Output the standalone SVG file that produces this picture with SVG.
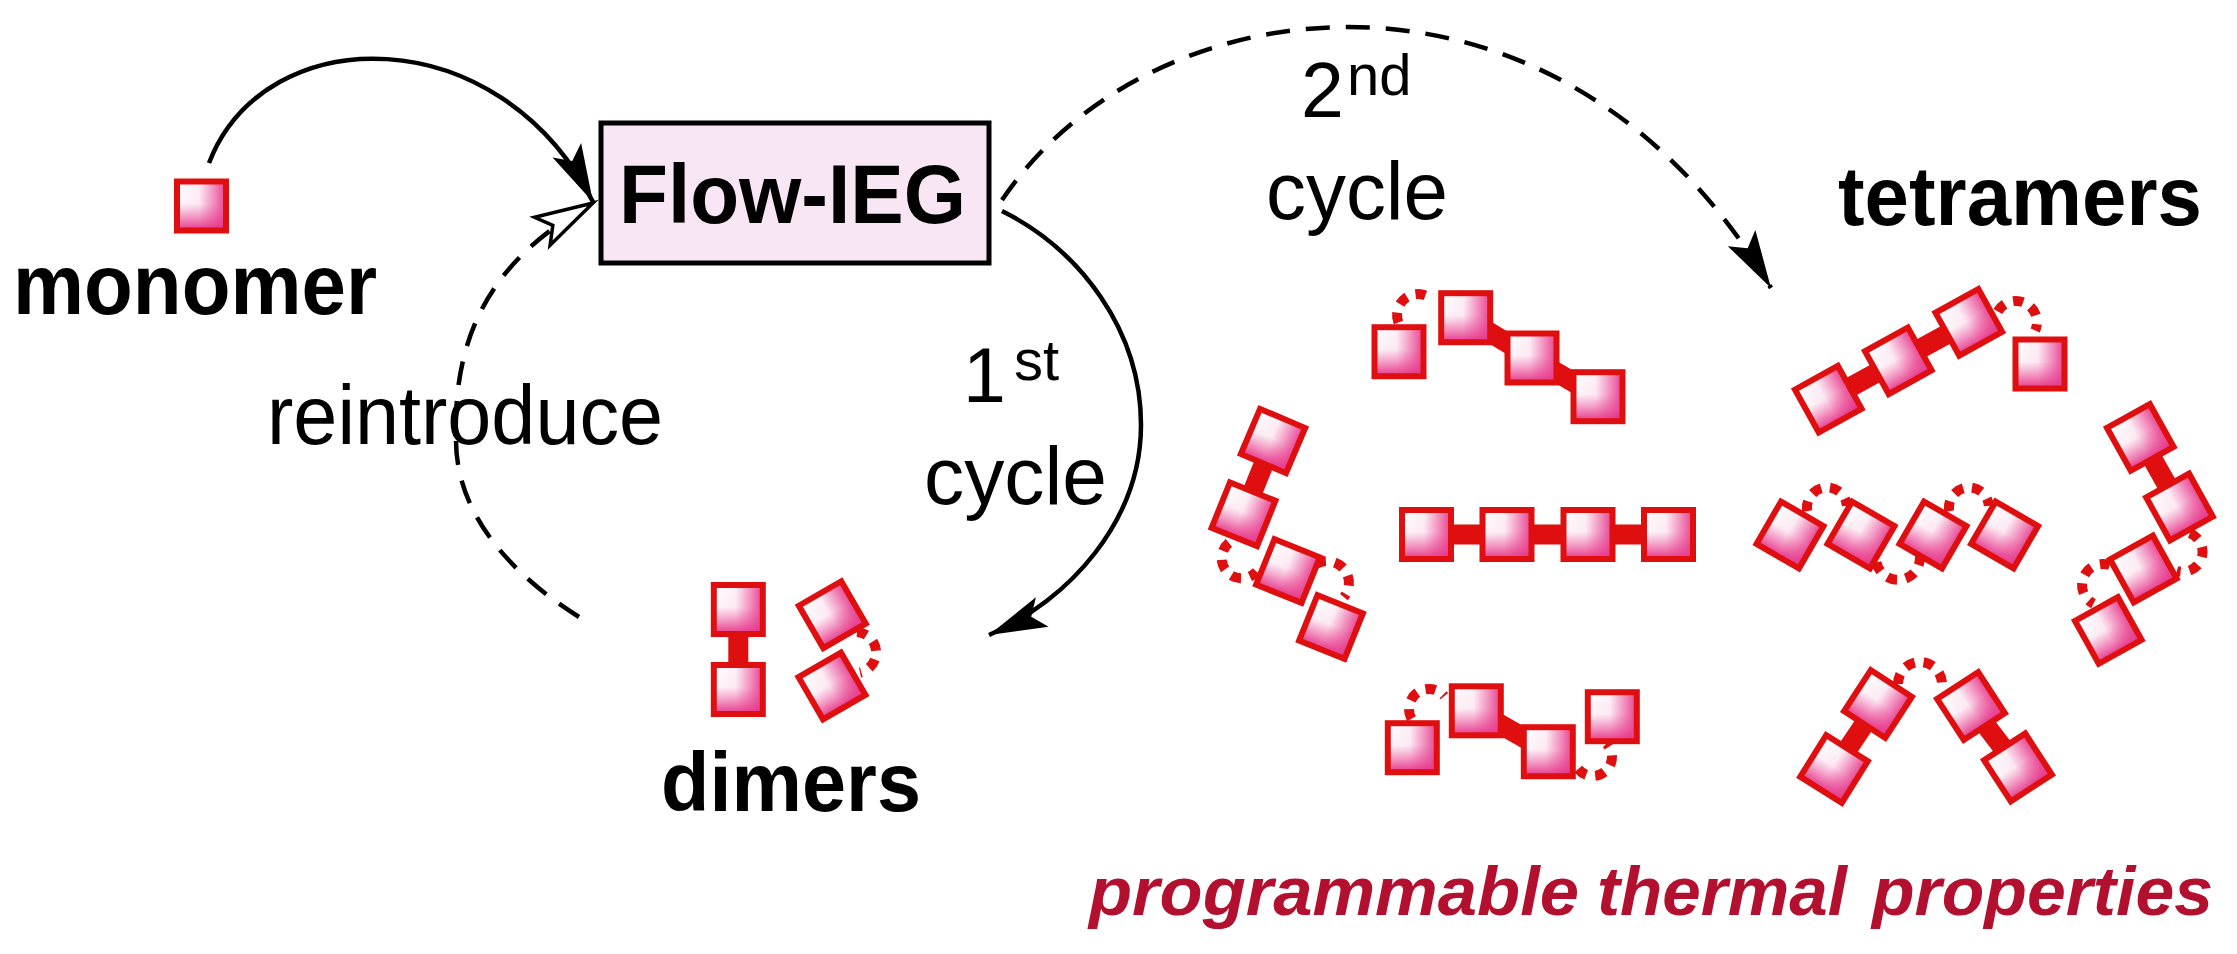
<svg xmlns="http://www.w3.org/2000/svg" width="2237" height="954" viewBox="0 0 2237 954">
<defs>
<style>
.lbl{font-family:"Liberation Sans",Arial,sans-serif;fill:#000}
.b{font-weight:bold}
.conn{fill:none;stroke:#000;stroke-width:4.5}
.dash{stroke-width:4.5;stroke-dasharray:24 16}
.bar{stroke:#e00f0f;stroke-width:20;fill:none}
.brk{fill:none;stroke:#e00f0f;stroke-width:10;stroke-dasharray:10 9}
.prop{font-family:"Liberation Sans",Arial,sans-serif;font-weight:bold;font-style:italic;fill:#b3102f;font-size:68px}
</style>
<linearGradient id="gh" x1="0" y1="0" x2="1" y2="0">
<stop offset="0" stop-color="#ffffff"/><stop offset="0.45" stop-color="#fdf0f7"/><stop offset="1" stop-color="#e8408f"/>
</linearGradient>
<linearGradient id="gv" x1="0" y1="0" x2="0" y2="1">
<stop offset="0" stop-color="#ea4a95" stop-opacity="0"/><stop offset="0.45" stop-color="#ea4a95" stop-opacity="0.05"/><stop offset="1" stop-color="#e6358a" stop-opacity="1"/>
</linearGradient>
<g id="sq">
<rect x="-24.5" y="-24.5" width="49" height="49" fill="url(#gh)"/>
<rect x="-24.5" y="-24.5" width="49" height="49" fill="url(#gv)"/>
<rect x="-24.5" y="-24.5" width="49" height="49" fill="none" stroke="#e00f0f" stroke-width="6"/>
</g>
<marker id="ah" markerUnits="userSpaceOnUse" markerWidth="64" markerHeight="40" refX="61" refY="20" orient="auto" overflow="visible">
<path d="M61,20 L3,4 L15,20 L3,36 Z" fill="#000"/>
</marker>
<marker id="aho" markerUnits="userSpaceOnUse" markerWidth="64" markerHeight="40" refX="61" refY="20" orient="auto" overflow="visible">
<path d="M61,20 L3,4 L15,20 L3,36 Z" fill="#fff" stroke="#000" stroke-width="3.5"/>
</marker>
</defs>
<rect width="2237" height="954" fill="#fff"/>

<g id="connectors">
<path class="conn" d="M209,163 C265,18 500,18 593,202" marker-end="url(#ah)"/>
<path class="conn" d="M1002,211 C1080,250 1141,330 1141,425 C1141,520 1070,600 989,635" marker-end="url(#ah)"/>
<path class="conn dash" d="M1002,200 C1150,-20 1560,-70 1771,288" marker-end="url(#ah)"/>
<path class="conn dash" d="M579,617 C520,580 456,520 456,440 C452,320 505,252 593,203" marker-end="url(#aho)"/>
</g>

<g id="monomer">
<use href="#sq" transform="translate(201.5 206)"/>
<text class="lbl b" x="13" y="314" font-size="86" textLength="364" lengthAdjust="spacingAndGlyphs">monomer</text>
</g>

<g id="flow-ieg">
<rect x="601" y="123" width="388" height="140" fill="#f8e6f4" stroke="#000" stroke-width="5"/>
<text class="lbl b" x="619" y="223" font-size="84" textLength="347" lengthAdjust="spacingAndGlyphs">Flow-IEG</text>
</g>

<g id="label-reintroduce">
<text class="lbl" x="267" y="444" font-size="83" textLength="396" lengthAdjust="spacingAndGlyphs">reintroduce</text>
</g>

<g id="label-1st-cycle">
<text class="lbl" x="963" y="402" font-size="77">1</text>
<text class="lbl" x="1014" y="380" font-size="58">st</text>
<text class="lbl" x="924" y="504" font-size="81" textLength="183" lengthAdjust="spacingAndGlyphs">cycle</text>
</g>

<g id="label-2nd-cycle">
<text class="lbl" x="1301" y="117" font-size="77">2</text>
<text class="lbl" x="1347" y="95" font-size="58">nd</text>
<text class="lbl" x="1266" y="219" font-size="81" textLength="182" lengthAdjust="spacingAndGlyphs">cycle</text>
</g>

<g id="dimers">
<line class="bar" x1="738.3" y1="609.5" x2="738.3" y2="689.5"/>
<path class="brk" d="M857,632 A20.5,20.5 0 0 1 860,672.5"/>
<use href="#sq" transform="translate(738.3 609.5)"/>
<use href="#sq" transform="translate(738.3 689.5)"/>
<use href="#sq" transform="translate(832.3 614.7) rotate(-30)"/>
<use href="#sq" transform="translate(832 686) rotate(-30)"/>
<text class="lbl b" x="661" y="811" font-size="84" textLength="260" lengthAdjust="spacingAndGlyphs">dimers</text>
</g>

<g id="tetramers-label">
<text class="lbl b" x="1838" y="225" font-size="84" textLength="364" lengthAdjust="spacingAndGlyphs">tetramers</text>
</g>

<g id="tetramer-left">
<line class="bar" x1="1273" y1="441" x2="1243.5" y2="514.3"/>
<path class="brk" d="M1228.9,542.9 A20,20 0 1 0 1256.6,571.6"/>
<path class="brk" d="M1316.3,563.8 A22,22 0 0 1 1343.9,597.1"/>
<use href="#sq" transform="translate(1273 441) rotate(23)"/>
<use href="#sq" transform="translate(1243.5 514.3) rotate(22)"/>
<use href="#sq" transform="translate(1288 571) rotate(22)"/>
<use href="#sq" transform="translate(1331 627) rotate(22)"/>
</g>

<g id="tetramer-top">
<polyline class="bar" points="1465.7,317.7 1532,358 1598,396.7"/>
<path class="brk" d="M1398.4,322.5 A21,21 0 0 1 1432.3,299.6"/>
<use href="#sq" transform="translate(1399 351.7)"/>
<use href="#sq" transform="translate(1465.7 317.7)"/>
<use href="#sq" transform="translate(1532 358)"/>
<use href="#sq" transform="translate(1598 396.7)"/>
</g>

<g id="tetramer-linear">
<line class="bar" x1="1426.5" y1="534.5" x2="1668.5" y2="534.5"/>
<use href="#sq" transform="translate(1426.5 534.5)"/>
<use href="#sq" transform="translate(1507 534.5)"/>
<use href="#sq" transform="translate(1588 534.5)"/>
<use href="#sq" transform="translate(1668.5 534.5)"/>
</g>

<g id="tetramer-bottom">
<line class="bar" x1="1476.3" y1="710.8" x2="1548.3" y2="751.7"/>
<path class="brk" d="M1411.5,718.7 A20,20 0 0 1 1444.3,696.1"/>
<path class="brk" d="M1578.2,769 A19,19 0 1 0 1606.4,743.6"/>
<use href="#sq" transform="translate(1412.3 747.7)"/>
<use href="#sq" transform="translate(1476.3 710.8)"/>
<use href="#sq" transform="translate(1548.3 751.7)"/>
<use href="#sq" transform="translate(1612.3 716.7)"/>
</g>

<g id="tetramer-right-top">
<polyline class="bar" points="1828.3,399.2 1898.3,360.8 1968.8,322.3"/>
<path class="brk" d="M1997.8,311.5 A21,21 0 0 1 2035.2,330.5"/>
<use href="#sq" transform="translate(1828.3 399.2) rotate(-29)"/>
<use href="#sq" transform="translate(1898.3 360.8) rotate(-29)"/>
<use href="#sq" transform="translate(1968.8 322.3) rotate(-29)"/>
<use href="#sq" transform="translate(2040 364)"/>
</g>

<g id="tetramer-right-middle">
<path class="brk" d="M1807.3,511.1 A20,20 0 1 1 1846.9,505.9"/>
<path class="brk" d="M1876.4,562.2 A22,22 0 0 0 1919.9,556.1"/>
<path class="brk" d="M1949.3,511.1 A20,20 0 1 1 1988.9,505.9"/>
<use href="#sq" transform="translate(1790 535) rotate(30)"/>
<use href="#sq" transform="translate(1861 535) rotate(30)"/>
<use href="#sq" transform="translate(1933 535) rotate(30)"/>
<use href="#sq" transform="translate(2004.6 535) rotate(30)"/>
</g>

<g id="tetramer-right-side">
<line class="bar" x1="2140.3" y1="437.4" x2="2179.5" y2="507"/>
<path class="brk" d="M2189.8,533.2 A20,20 0 0 1 2176.8,571"/>
<path class="brk" d="M2109.8,565.1 A21,21 0 0 0 2093.5,603.7"/>
<use href="#sq" transform="translate(2140.3 437.4) rotate(-29)"/>
<use href="#sq" transform="translate(2179.5 507) rotate(-29)"/>
<use href="#sq" transform="translate(2143.3 569) rotate(-29)"/>
<use href="#sq" transform="translate(2108.3 630.4) rotate(-29)"/>
</g>

<g id="tetramer-v">
<line class="bar" x1="1878" y1="704" x2="1834" y2="769"/>
<line class="bar" x1="1971" y1="706" x2="2018" y2="767.4"/>
<path class="brk" d="M1898,684 A22,22 0 0 1 1942,684"/>
<use href="#sq" transform="translate(1878 704) rotate(33)"/>
<use href="#sq" transform="translate(1834 769) rotate(32)"/>
<use href="#sq" transform="translate(1971 706) rotate(-33)"/>
<use href="#sq" transform="translate(2018 767.4) rotate(-33)"/>
</g>

<g id="caption">
<text class="prop" x="1089" y="915" textLength="490" lengthAdjust="spacingAndGlyphs">programmable</text>
<text class="prop" x="1597" y="915" textLength="250" lengthAdjust="spacingAndGlyphs">thermal</text>
<text class="prop" x="1872" y="915" textLength="341" lengthAdjust="spacingAndGlyphs">properties</text>
</g>
</svg>
